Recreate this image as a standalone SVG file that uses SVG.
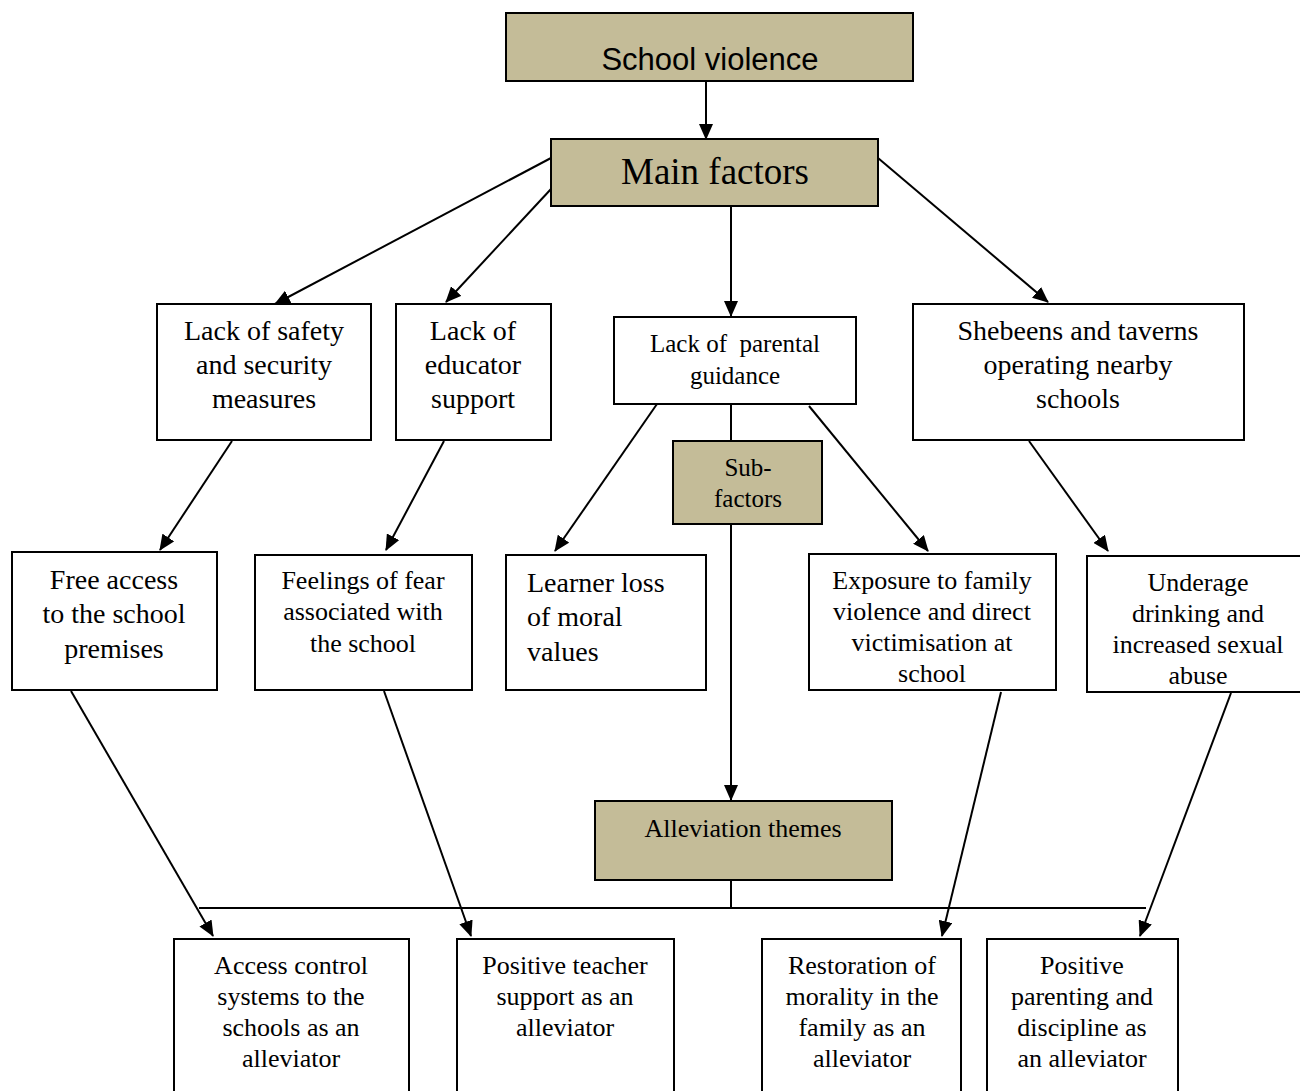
<svg xmlns="http://www.w3.org/2000/svg" width="1300" height="1091" viewBox="0 0 1300 1091">
<style>
.box{fill:#fff;stroke:#000;stroke-width:2}
.tan{fill:#c4bc98;stroke:#000;stroke-width:2}
.t{font-family:"Liberation Serif","Times New Roman",serif;fill:#000;text-anchor:middle}
.s26{font-size:26px}
.s28{font-size:28px}
.c{stroke:#000;stroke-width:2;fill:none}
</style>
<defs>
<marker id="ah" markerUnits="userSpaceOnUse" markerWidth="16" markerHeight="14" refX="15" refY="7" orient="auto">
<path d="M0,0 L16,7 L0,14 Z" fill="#000"/>
</marker>
</defs>
<rect width="1300" height="1091" fill="#fff"/>
<g id="connectors">
<line class="c" x1="706" y1="81" x2="706" y2="139" marker-end="url(#ah)"/>
<line class="c" x1="551" y1="158" x2="275" y2="304" marker-end="url(#ah)"/>
<line class="c" x1="551" y1="189" x2="446" y2="302" marker-end="url(#ah)"/>
<line class="c" x1="731" y1="203" x2="731" y2="316" marker-end="url(#ah)"/>
<line class="c" x1="878" y1="158" x2="1048" y2="302" marker-end="url(#ah)"/>
<line class="c" x1="232" y1="441" x2="160" y2="550" marker-end="url(#ah)"/>
<line class="c" x1="444" y1="441" x2="386" y2="550" marker-end="url(#ah)"/>
<line class="c" x1="657" y1="404" x2="555" y2="551" marker-end="url(#ah)"/>
<line class="c" x1="809" y1="406" x2="928" y2="551" marker-end="url(#ah)"/>
<line class="c" x1="1029" y1="441" x2="1108" y2="551" marker-end="url(#ah)"/>
<line class="c" x1="731" y1="404" x2="731" y2="441"/>
<line class="c" x1="731" y1="524" x2="731" y2="800" marker-end="url(#ah)"/>
<line class="c" x1="731" y1="880" x2="731" y2="908"/>
<line class="c" x1="199" y1="908" x2="1146" y2="908"/>
<line class="c" x1="71" y1="691" x2="213" y2="936" marker-end="url(#ah)"/>
<line class="c" x1="384" y1="691" x2="471" y2="936" marker-end="url(#ah)"/>
<line class="c" x1="1001" y1="692" x2="942" y2="936" marker-end="url(#ah)"/>
<line class="c" x1="1231" y1="693" x2="1140" y2="936" marker-end="url(#ah)"/>
</g>
<g id="school-violence">
<rect class="tan" x="506" y="13" width="407" height="68"/>
<text x="710" y="70" font-family="Liberation Sans, Arial, sans-serif" font-size="31" text-anchor="middle">School violence</text>
</g>
<g id="main-factors">
<rect class="tan" x="551" y="139" width="327" height="67"/>
<text class="t" x="715" y="184" font-size="37">Main factors</text>
</g>
<g id="lack-safety">
<rect class="box" x="157" y="304" width="214" height="136"/>
<text class="t s28" x="264"><tspan x="264" y="340">Lack of safety</tspan><tspan x="264" y="374">and security</tspan><tspan x="264" y="408">measures</tspan></text>
</g>
<g id="lack-educator">
<rect class="box" x="396" y="304" width="155" height="136"/>
<text class="t s28" x="473"><tspan x="473" y="340">Lack of</tspan><tspan x="473" y="374">educator</tspan><tspan x="473" y="408">support</tspan></text>
</g>
<g id="lack-parental">
<rect class="box" x="614" y="317" width="242" height="87"/>
<text class="t" font-size="25" x="735"><tspan x="735" y="352">Lack of&#160; parental</tspan><tspan x="735" y="384">guidance</tspan></text>
</g>
<g id="shebeens">
<rect class="box" x="913" y="304" width="331" height="136"/>
<text class="t s28" x="1078"><tspan x="1078" y="340">Shebeens and taverns</tspan><tspan x="1078" y="374">operating nearby</tspan><tspan x="1078" y="408">schools</tspan></text>
</g>
<g id="sub-factors">
<rect class="tan" x="673" y="441" width="149" height="83"/>
<text class="t" font-size="25" x="748"><tspan x="748" y="476">Sub-</tspan><tspan x="748" y="507">factors</tspan></text>
</g>
<g id="free-access">
<rect class="box" x="12" y="552" width="205" height="138"/>
<text class="t s28" x="114"><tspan x="114" y="589">Free access</tspan><tspan x="114" y="623">to the school</tspan><tspan x="114" y="658">premises</tspan></text>
</g>
<g id="feelings-fear">
<rect class="box" x="255" y="555" width="217" height="135"/>
<text class="t s26" x="363"><tspan x="363" y="589">Feelings of fear</tspan><tspan x="363" y="620">associated with</tspan><tspan x="363" y="652">the school</tspan></text>
</g>
<g id="learner-loss">
<rect class="box" x="506" y="555" width="200" height="135"/>
<text class="t s28" text-anchor="start"><tspan x="527" y="592" text-anchor="start">Learner loss</tspan><tspan x="527" y="626" text-anchor="start">of moral</tspan><tspan x="527" y="661" text-anchor="start">values</tspan></text>
</g>
<g id="exposure">
<rect class="box" x="809" y="554" width="247" height="136"/>
<text class="t s26" x="932"><tspan x="932" y="589">Exposure to family</tspan><tspan x="932" y="620">violence and direct</tspan><tspan x="932" y="651">victimisation at</tspan><tspan x="932" y="682">school</tspan></text>
</g>
<g id="underage">
<rect class="box" x="1087" y="556" width="225" height="136"/>
<text class="t s26" x="1198"><tspan x="1198" y="591">Underage</tspan><tspan x="1198" y="622">drinking and</tspan><tspan x="1198" y="653">increased sexual</tspan><tspan x="1198" y="684">abuse</tspan></text>
</g>
<g id="alleviation-themes">
<rect class="tan" x="595" y="801" width="297" height="79"/>
<text class="t s26" x="743" y="837">Alleviation themes</text>
</g>
<g id="access-control">
<rect class="box" x="174" y="939" width="235" height="170"/>
<text class="t s26" x="291"><tspan x="291" y="974">Access control</tspan><tspan x="291" y="1005">systems to the</tspan><tspan x="291" y="1036">schools as an</tspan><tspan x="291" y="1067">alleviator</tspan></text>
</g>
<g id="positive-teacher">
<rect class="box" x="457" y="939" width="217" height="170"/>
<text class="t s26" x="565"><tspan x="565" y="974">Positive teacher</tspan><tspan x="565" y="1005">support as an</tspan><tspan x="565" y="1036">alleviator</tspan></text>
</g>
<g id="restoration">
<rect class="box" x="762" y="939" width="199" height="170"/>
<text class="t s26" x="862"><tspan x="862" y="974">Restoration of</tspan><tspan x="862" y="1005">morality in the</tspan><tspan x="862" y="1036">family as an</tspan><tspan x="862" y="1067">alleviator</tspan></text>
</g>
<g id="positive-parenting">
<rect class="box" x="987" y="939" width="191" height="170"/>
<text class="t s26" x="1082"><tspan x="1082" y="974">Positive</tspan><tspan x="1082" y="1005">parenting and</tspan><tspan x="1082" y="1036">discipline as</tspan><tspan x="1082" y="1067">an alleviator</tspan></text>
</g>
</svg>
